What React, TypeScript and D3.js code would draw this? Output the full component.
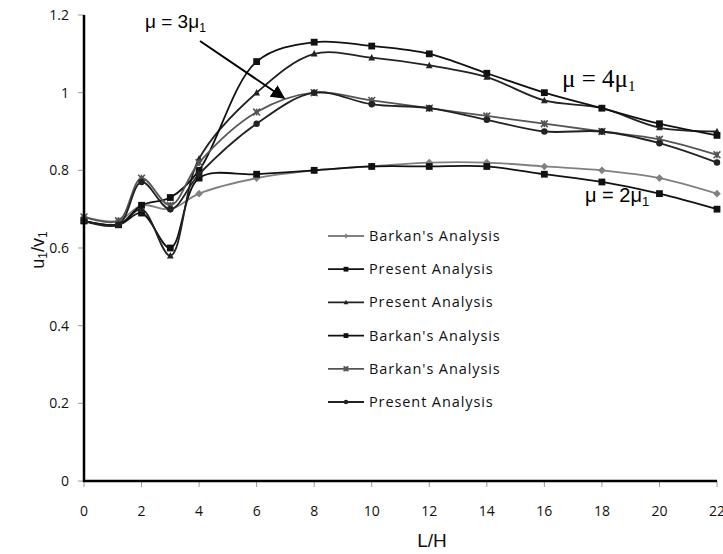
import React from "react";
import * as d3 from "d3";

const xs = [0, 1.2, 2, 3, 4, 6, 8, 10, 12, 14, 16, 18, 20, 22];
const xTicks = [0, 2, 4, 6, 8, 10, 12, 14, 16, 18, 20, 22];
const yTicks = [0, 0.2, 0.4, 0.6, 0.8, 1, 1.2];

// mu = 2mu1
const barkan2 = [0.68, 0.67, 0.71, 0.7, 0.74, 0.78, 0.8, 0.81, 0.82, 0.82, 0.81, 0.8, 0.78, 0.74];
const present2 = [0.67, 0.66, 0.69, 0.6, 0.78, 0.79, 0.8, 0.81, 0.81, 0.81, 0.79, 0.77, 0.74, 0.7];
// mu = 4mu1
const present4 = [0.67, 0.66, 0.7, 0.58, 0.83, 1.0, 1.1, 1.09, 1.07, 1.04, 0.98, 0.96, 0.91, 0.9];
const barkan4 = [0.67, 0.66, 0.71, 0.73, 0.8, 1.08, 1.13, 1.12, 1.1, 1.05, 1.0, 0.96, 0.92, 0.89];
// mu = 3mu1
const barkan3 = [0.68, 0.67, 0.78, 0.71, 0.82, 0.95, 1.0, 0.98, 0.96, 0.94, 0.92, 0.9, 0.88, 0.84];
const present3 = [0.67, 0.66, 0.77, 0.7, 0.79, 0.92, 1.0, 0.97, 0.96, 0.93, 0.9, 0.9, 0.87, 0.82];

const series = [
  { name: "Barkan's Analysis", values: barkan2, color: "#808080", marker: "diamond" },
  { name: "Present Analysis", values: present2, color: "#111", marker: "square" },
  { name: "Present Analysis", values: present4, color: "#222", marker: "triangle" },
  { name: "Barkan's Analysis", values: barkan4, color: "#111", marker: "square" },
  { name: "Barkan's Analysis", values: barkan3, color: "#555", marker: "star" },
  { name: "Present Analysis", values: present3, color: "#222", marker: "circle" },
];

const font = "'Open Sans', Lato, sans-serif";
const arial = "Arial, 'Liberation Sans', sans-serif";

function Marker({ type, x, y, color, s }: { type: string; x: number; y: number; color: string; s: number }) {
  if (type === "diamond")
    return <path d={`M${x},${y - s}L${x + s},${y}L${x},${y + s}L${x - s},${y}Z`} fill={color} />;
  if (type === "square")
    return <rect x={x - s} y={y - s} width={2 * s} height={2 * s} fill={color} />;
  if (type === "triangle")
    return <path d={`M${x},${y - s * 1.1}L${x + s},${y + s * 0.8}L${x - s},${y + s * 0.8}Z`} fill={color} />;
  if (type === "circle") return <circle cx={x} cy={y} r={s * 0.95} fill={color} />;
  // star: asterisk
  return (
    <g stroke={color} strokeWidth={1.6}>
      <line x1={x - s} y1={y - s} x2={x + s} y2={y + s} />
      <line x1={x - s} y1={y + s} x2={x + s} y2={y - s} />
      <line x1={x} y1={y - s} x2={x} y2={y + s} />
      <rect x={x - s * 0.6} y={y - s * 0.6} width={s * 1.2} height={s * 1.2} fill={color} stroke="none" />
    </g>
  );
}

export default function App() {
  const width = 723;
  const height = 554;
  const x = d3.scaleLinear().domain([0, 22]).range([84, 717]);
  const y = d3.scaleLinear().domain([0, 1.2]).range([481, 15]);
  const line = d3
    .line<number>()
    .x((_, i) => x(xs[i]))
    .y((d) => y(d))
    .curve(d3.curveCatmullRom.alpha(0.5));

  const legendX = 328;
  const legendY0 = 236;
  const legendStep = 33.2;

  return (
    <svg width={width} height={height} style={{ position: "absolute", left: 0, top: 0 }}>
      <rect width={width} height={height} fill="#fff" />
      {/* ticks */}
      {yTicks.map((t) => (
        <g key={"y" + t}>
          <line x1={78} x2={84} y1={y(t)} y2={y(t)} stroke="#999" />
          <text x={69} y={y(t)} dy="0.35em" textAnchor="end" fontFamily={font} fontSize={14} fill="#111">
            {t}
          </text>
        </g>
      ))}
      {xTicks.map((t) => (
        <g key={"x" + t}>
          <line x1={x(t)} x2={x(t)} y1={481} y2={487} stroke="#999" />
          <text x={x(t)} y={516} textAnchor="middle" fontFamily={font} fontSize={14} fill="#111">
            {t}
          </text>
        </g>
      ))}
      {/* series */}
      {series.map((s, i) => (
        <g key={i}>
          <path d={line(s.values) || ""} fill="none" stroke={s.color} strokeWidth={1.8} />
          {s.values.map((v, j) => (
            <Marker key={j} type={s.marker} x={x(xs[j])} y={y(v)} color={s.color} s={s.marker === "diamond" ? 3.8 : 3.4} />
          ))}
        </g>
      ))}
      {/* axes */}
      <line x1={84} x2={84} y1={15} y2={482} stroke="#000" strokeWidth={2.5} />
      <line x1={83} x2={717} y1={481} y2={481} stroke="#000" strokeWidth={2.5} />
      {/* legend */}
      {series.map((s, i) => {
        const ly = legendY0 + i * legendStep;
        return (
          <g key={"l" + i}>
            <line x1={legendX} x2={legendX + 36} y1={ly} y2={ly} stroke={s.color} strokeWidth={1.8} />
            <Marker type={s.marker} x={legendX + 18} y={ly} color={s.color} s={2.4} />
            <text
              x={legendX + 41}
              y={ly}
              dy="0.35em"
              fontFamily={font}
              fontSize={14.5}
              letterSpacing={0.9}
              fill="#111"
            >
              {s.name}
            </text>
          </g>
        );
      })}
      {/* annotations */}
      <text x={145} y={28} fontFamily={arial} fontSize={19} fill="#000">
        μ = 3μ<tspan fontSize={12} dy={4}>1</tspan>
      </text>
      <defs>
        <marker id="arr" viewBox="0 0 10 10" refX={9} refY={5} markerWidth={7} markerHeight={7} orient="auto">
          <path d="M0,0L10,5L0,10Z" fill="#000" />
        </marker>
      </defs>
      <line x1={200} y1={41} x2={284} y2={98} stroke="#000" strokeWidth={2} markerEnd="url(#arr)" />
      <text x={562} y={87} fontFamily="'Liberation Serif', 'Times New Roman', serif" fontSize={25} fill="#000">
        μ = 4μ<tspan fontSize={15} dy={4}>1</tspan>
      </text>
      <text x={585} y={202} fontFamily={arial} fontSize={20} fill="#000">
        μ = 2μ<tspan fontSize={13} dy={4}>1</tspan>
      </text>
      <text x={432} y={547} textAnchor="middle" fontFamily={arial} fontSize={19} fill="#111">
        L/H
      </text>
      <text
        transform={`translate(44,250) rotate(-90)`}
        textAnchor="middle"
        fontFamily={arial}
        fontSize={18}
        fill="#111"
      >
        u<tspan fontSize={12} dy={3}>1</tspan>
        <tspan dy={-3}>/v</tspan>
        <tspan fontSize={12} dy={3}>1</tspan>
      </text>
    </svg>
  );
}
